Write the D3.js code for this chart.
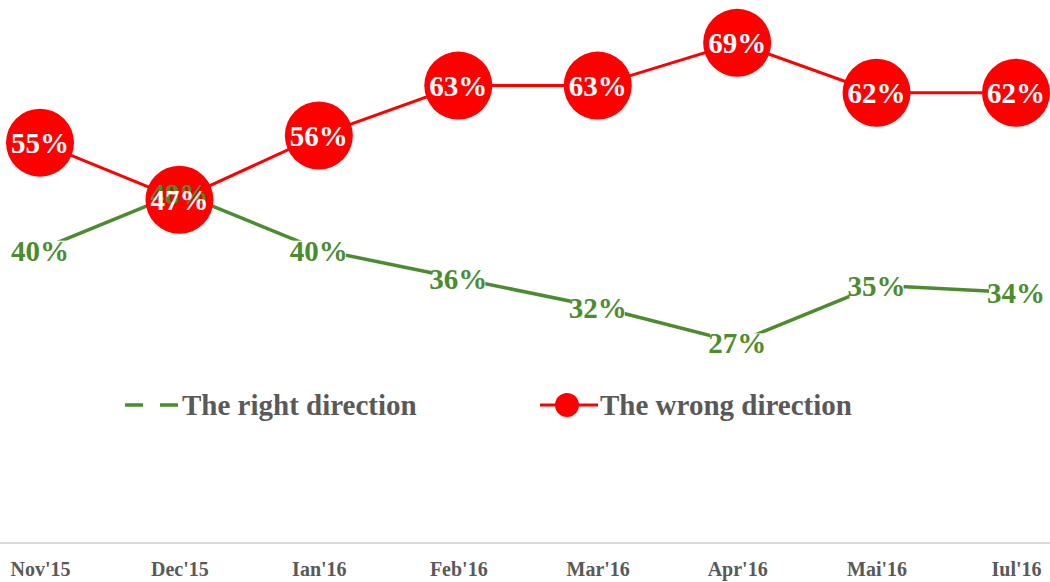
<!DOCTYPE html>
<html>
<head>
<meta charset="utf-8">
<script src="https://cdn.jsdelivr.net/npm/d3@7"></script>
<style>
  body { margin: 0; background: #fff; }
  text { font-family: "Liberation Serif", "DejaVu Serif", serif; font-weight: bold; }
</style>
</head>
<body>
<div class="container"></div>
<script>
// data
const months = ["Nov'15", "Dec'15", "Ian'16", "Feb'16", "Mar'16", "Apr'16", "Mai'16", "Iul'16"]
const rightDir = [40, 48, 40, 36, 32, 27, 35, 34]
const wrongDir = [55, 47, 56, 63, 63, 69, 62, 62]
const seriesNames = ["The right direction", "The wrong direction"]

const width = 1050
const height = 582
const green = "#4a8c2e"
const red = "#ff0000"
const grey = "#595959"

const svg = d3.select(".container").append("svg").attr("width", width).attr("height", height)

const x = d3.scalePoint().domain(months).range([40, 1016])
const y = d3.scaleLinear().domain([0, 75]).range([535, 0])

// x axis
const xAxisGroup = svg.append("g").attr("transform", `translate(0, 543)`)
xAxisGroup.call(d3.axisBottom(x).tickSize(0).tickPadding(19))
xAxisGroup.select(".domain").remove()
xAxisGroup.append("line").attr("x1", 0).attr("x2", width).attr("y1", 0).attr("y2", 0)
    .attr("stroke", "#d9d9d9").attr("stroke-width", 2)
xAxisGroup.selectAll(".tick text").attr("fill", grey).style("font-size", "20px")
    .style("font-family", "Liberation Serif, serif").style("font-weight", "bold")

const greenData = months.map((m, i) => ({ m, v: rightDir[i] }))
const redData = months.map((m, i) => ({ m, v: wrongDir[i] }))

const line = d3.line().x(d => x(d.m)).y(d => y(d.v))

// green line
svg.append("path").datum(greenData).attr("d", line)
    .attr("fill", "none").attr("stroke", green).attr("stroke-width", 3.5)

// green labels with white masks
const gLab = svg.append("g")
gLab.selectAll("text").data(greenData).join("text")
    .attr("x", d => x(d.m)).attr("y", d => y(d.v) + 1)
    .attr("text-anchor", "middle").attr("dominant-baseline", "central")
    .attr("fill", green).style("font-size", "29px")
    .text(d => d.v + "%")
const bgs = []
gLab.selectAll("text").each(function () { bgs.push(this.getBBox()) })
const gBg = svg.insert("g", () => gLab.node())
gBg.selectAll("rect").data(bgs).join("rect")
    .attr("x", b => b.x + 2).attr("y", b => b.y + 6)
    .attr("width", b => b.width - 4).attr("height", b => b.height - 10)
    .attr("fill", "#fff")

// red line + circles (above green masks, below green text)
const redG = svg.insert("g", () => gLab.node())
redG.append("path").datum(redData).attr("d", line)
    .attr("fill", "none").attr("stroke", red).attr("stroke-width", 3)
redG.selectAll("circle").data(redData).join("circle")
    .attr("cx", d => x(d.m)).attr("cy", d => y(d.v)).attr("r", 34)
    .attr("fill", red)

// red labels
svg.append("g").selectAll("text").data(redData).join("text")
    .attr("x", d => x(d.m)).attr("y", d => y(d.v))
    .attr("text-anchor", "middle").attr("dominant-baseline", "central")
    .attr("fill", "#fff").style("font-size", "29px")
    .text(d => d.v + "%")

// legend
const legend = svg.append("g").attr("transform", "translate(0, 405)")
legend.append("line").attr("x1", 125).attr("x2", 178).attr("y1", 0).attr("y2", 0)
    .attr("stroke", green).attr("stroke-width", 3.5).attr("stroke-dasharray", "18,17")
legend.append("text").attr("x", 182).attr("y", 0).attr("dominant-baseline", "central")
    .attr("fill", grey).style("font-size", "29px").text(seriesNames[0])
legend.append("line").attr("x1", 540).attr("x2", 598).attr("y1", 0).attr("y2", 0)
    .attr("stroke", red).attr("stroke-width", 3)
legend.append("circle").attr("cx", 567).attr("cy", 0).attr("r", 12).attr("fill", red)
legend.append("text").attr("x", 600).attr("y", 0).attr("dominant-baseline", "central")
    .attr("fill", grey).style("font-size", "29px").text(seriesNames[1])
</script>
</body>
</html>
